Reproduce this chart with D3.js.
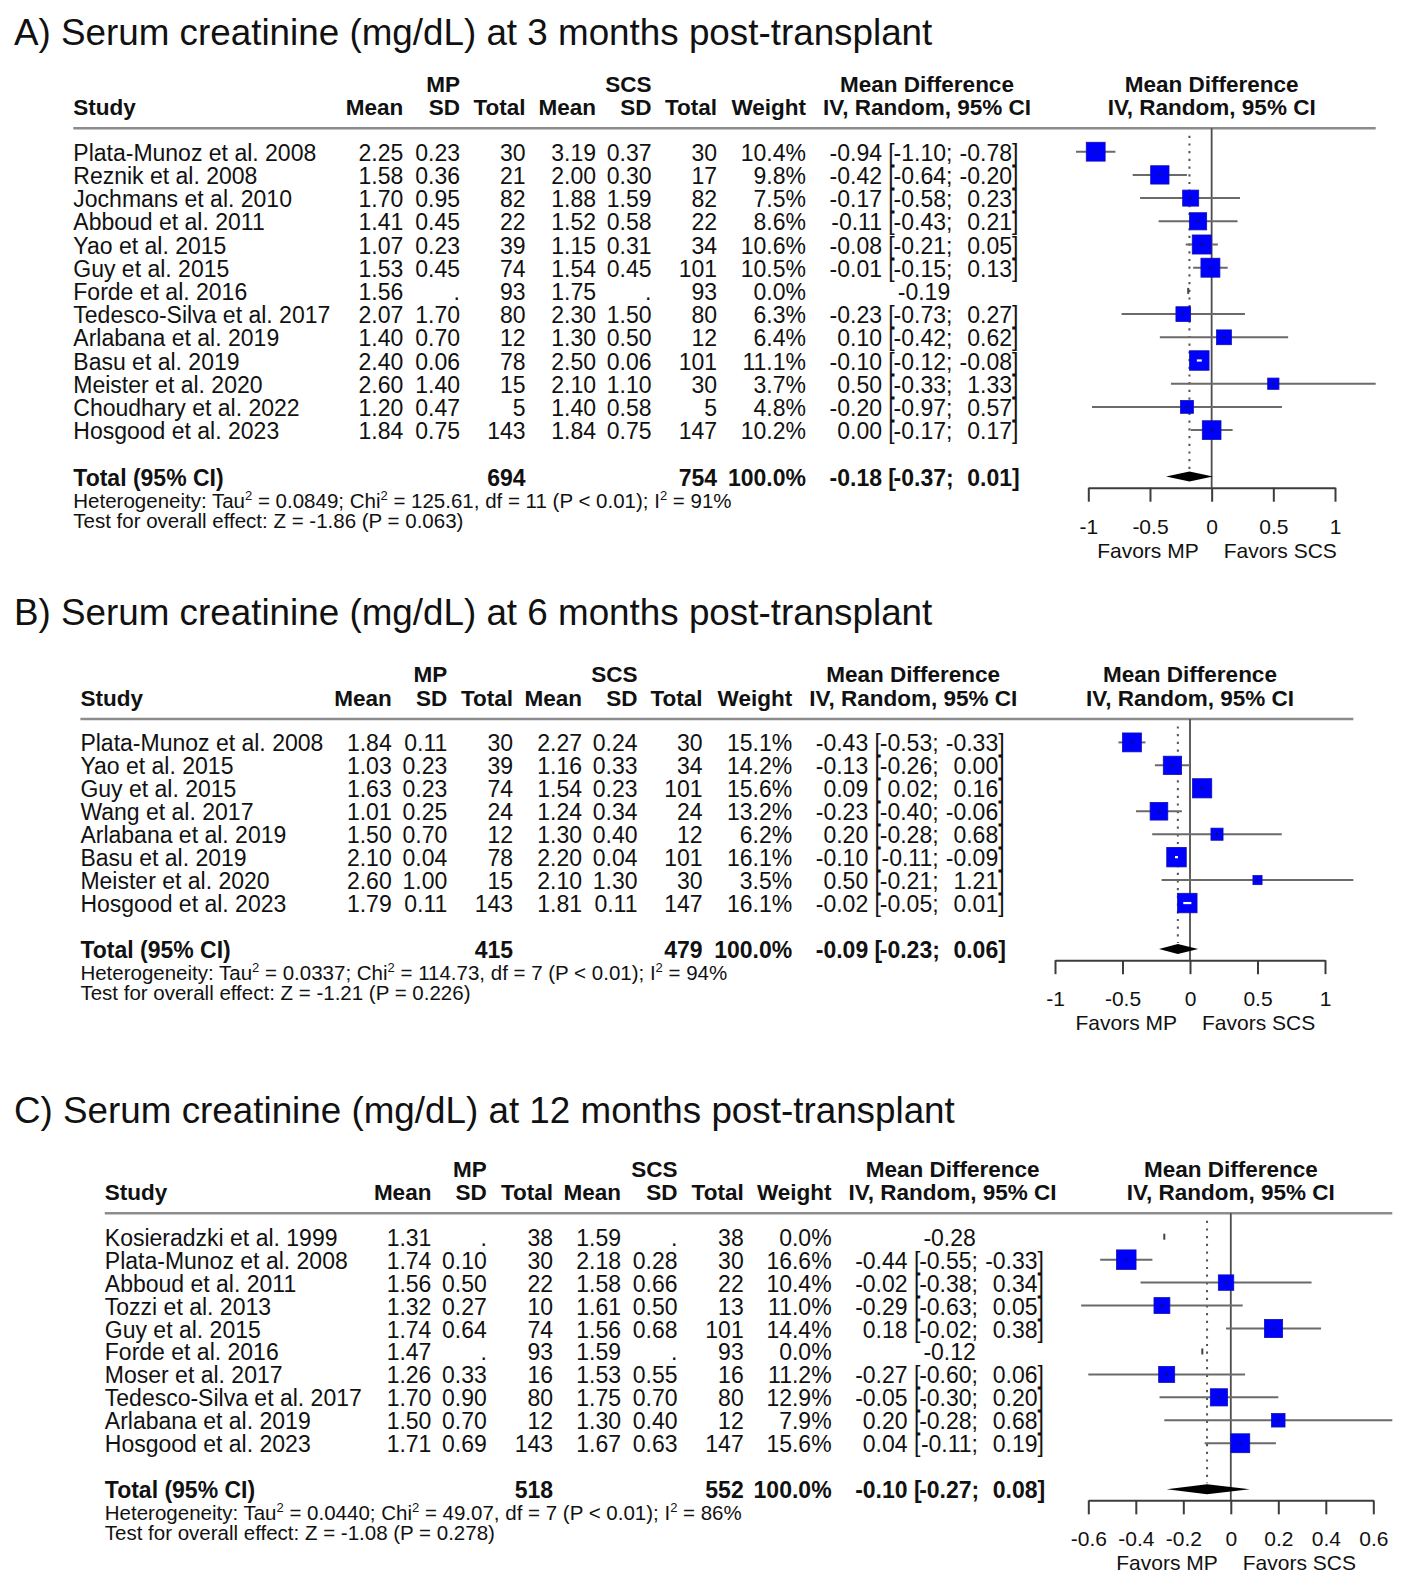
<!DOCTYPE html>
<html>
<head>
<meta charset="utf-8">
<script src="https://cdn.jsdelivr.net/npm/d3@7"></script>
<style>
  body { margin: 0; background: #fff; }
  text { font-family: "Liberation Sans", Arial, sans-serif; fill: #111; }
</style>
</head>
<body>
<script>
// ---- data: panel A, 3 months ----
var studiesA = ["Plata-Munoz et al. 2008", "Reznik et al. 2008", "Jochmans et al. 2010", "Abboud et al. 2011",
  "Yao et al. 2015", "Guy et al. 2015", "Forde et al. 2016", "Tedesco-Silva et al. 2017", "Arlabana et al. 2019",
  "Basu et al. 2019", "Meister et al. 2020", "Choudhary et al. 2022", "Hosgood et al. 2023"];
var mpMeanA = [2.25, 1.58, 1.70, 1.41, 1.07, 1.53, 1.56, 2.07, 1.40, 2.40, 2.60, 1.20, 1.84];
var mpSdA = [0.23, 0.36, 0.95, 0.45, 0.23, 0.45, null, 1.70, 0.70, 0.06, 1.40, 0.47, 0.75];
var mpTotalA = [30, 21, 82, 22, 39, 74, 93, 80, 12, 78, 15, 5, 143];
var scsMeanA = [3.19, 2.00, 1.88, 1.52, 1.15, 1.54, 1.75, 2.30, 1.30, 2.50, 2.10, 1.40, 1.84];
var scsSdA = [0.37, 0.30, 1.59, 0.58, 0.31, 0.45, null, 1.50, 0.50, 0.06, 1.10, 0.58, 0.75];
var scsTotalA = [30, 17, 82, 22, 34, 101, 93, 80, 12, 101, 30, 5, 147];
var weightA = [10.4, 9.8, 7.5, 8.6, 10.6, 10.5, 0.0, 6.3, 6.4, 11.1, 3.7, 4.8, 10.2];
var mdA = [-0.94, -0.42, -0.17, -0.11, -0.08, -0.01, -0.19, -0.23, 0.10, -0.10, 0.50, -0.20, 0.00];
var lowerA = [-1.10, -0.64, -0.58, -0.43, -0.21, -0.15, null, -0.73, -0.42, -0.12, -0.33, -0.97, -0.17];
var upperA = [-0.78, -0.20, 0.23, 0.21, 0.05, 0.13, null, 0.27, 0.62, -0.08, 1.33, 0.57, 0.17];

// ---- data: panel B, 6 months ----
var studiesB = ["Plata-Munoz et al. 2008", "Yao et al. 2015", "Guy et al. 2015", "Wang et al. 2017",
  "Arlabana et al. 2019", "Basu et al. 2019", "Meister et al. 2020", "Hosgood et al. 2023"];
var mpMeanB = [1.84, 1.03, 1.63, 1.01, 1.50, 2.10, 2.60, 1.79];
var mpSdB = [0.11, 0.23, 0.23, 0.25, 0.70, 0.04, 1.00, 0.11];
var mpTotalB = [30, 39, 74, 24, 12, 78, 15, 143];
var scsMeanB = [2.27, 1.16, 1.54, 1.24, 1.30, 2.20, 2.10, 1.81];
var scsSdB = [0.24, 0.33, 0.23, 0.34, 0.40, 0.04, 1.30, 0.11];
var scsTotalB = [30, 34, 101, 24, 12, 101, 30, 147];
var weightB = [15.1, 14.2, 15.6, 13.2, 6.2, 16.1, 3.5, 16.1];
var mdB = [-0.43, -0.13, 0.09, -0.23, 0.20, -0.10, 0.50, -0.02];
var lowerB = [-0.53, -0.26, 0.02, -0.40, -0.28, -0.11, -0.21, -0.05];
var upperB = [-0.33, 0.00, 0.16, -0.06, 0.68, -0.09, 1.21, 0.01];

// ---- data: panel C, 12 months ----
var studiesC = ["Kosieradzki et al. 1999", "Plata-Munoz et al. 2008", "Abboud et al. 2011", "Tozzi et al. 2013",
  "Guy et al. 2015", "Forde et al. 2016", "Moser et al. 2017", "Tedesco-Silva et al. 2017",
  "Arlabana et al. 2019", "Hosgood et al. 2023"];
var mpMeanC = [1.31, 1.74, 1.56, 1.32, 1.74, 1.47, 1.26, 1.70, 1.50, 1.71];
var mpSdC = [null, 0.10, 0.50, 0.27, 0.64, null, 0.33, 0.90, 0.70, 0.69];
var mpTotalC = [38, 30, 22, 10, 74, 93, 16, 80, 12, 143];
var scsMeanC = [1.59, 2.18, 1.58, 1.61, 1.56, 1.59, 1.53, 1.75, 1.30, 1.67];
var scsSdC = [null, 0.28, 0.66, 0.50, 0.68, null, 0.55, 0.70, 0.40, 0.63];
var scsTotalC = [38, 30, 22, 13, 101, 93, 16, 80, 12, 147];
var weightC = [0.0, 16.6, 10.4, 11.0, 14.4, 0.0, 11.2, 12.9, 7.9, 15.6];
var mdC = [-0.28, -0.44, -0.02, -0.29, 0.18, -0.12, -0.27, -0.05, 0.20, 0.04];
var lowerC = [null, -0.55, -0.38, -0.63, -0.02, null, -0.60, -0.30, -0.28, -0.11];
var upperC = [null, -0.33, 0.34, 0.05, 0.38, null, 0.06, 0.20, 0.68, 0.19];

// pooled results and tests, one entry per panel (A, B, C)
var titles = ["A) Serum creatinine (mg/dL) at 3 months post-transplant",
  "B) Serum creatinine (mg/dL) at 6 months post-transplant",
  "C) Serum creatinine (mg/dL) at 12 months post-transplant"];
var totMp = [694, 415, 518];
var totScs = [754, 479, 552];
var totMd = [-0.18, -0.09, -0.10];
var totLow = [-0.37, -0.23, -0.27];
var totUp = [0.01, 0.06, 0.08];
var tau2 = ["0.0849", "0.0337", "0.0440"];
var chi2 = ["125.61", "114.73", "49.07"];
var dfs = [11, 7, 7];
var i2 = [91, 94, 86];
var zVals = ["-1.86", "-1.21", "-1.08"];
var pVals = ["0.063", "0.226", "0.278"];

var ticksAB = [-1, -0.5, 0, 0.5, 1];
var ticksC = [-0.6, -0.4, -0.2, 0, 0.2, 0.4, 0.6];

var loc = d3.formatLocale({decimal: ".", thousands: ",", grouping: [3], currency: ["", ""], minus: "-"});
var f2 = loc.format(".2f"), f1 = loc.format(".1f");

var svg = d3.select("body").append("svg").attr("width", 1405).attr("height", 1585);
svg.append("rect").attr("width", "100%").attr("height", "100%").attr("fill", "white");

var panels = [
  {studies: studiesA, mpMean: mpMeanA, mpSd: mpSdA, mpTotal: mpTotalA, scsMean: scsMeanA, scsSd: scsSdA,
   scsTotal: scsTotalA, weight: weightA, md: mdA, lower: lowerA, upper: upperA, ticks: ticksAB,
   titleY: 44.5, hLine: 128.3, rowH: 23.2, xlim: [-1, 1], xrange: [1088.3, 1335],
   cols: [73.3, 403.3, 460, 525.5, 596, 651.5, 717, 806]},
  {studies: studiesB, mpMean: mpMeanB, mpSd: mpSdB, mpTotal: mpTotalB, scsMean: scsMeanB, scsSd: scsSdB,
   scsTotal: scsTotalB, weight: weightB, md: mdB, lower: lowerB, upper: upperB, ticks: ticksAB,
   titleY: 625, hLine: 719, rowH: 22.95, xlim: [-1, 1], xrange: [1055, 1325],
   cols: [80.4, 391.7, 447.3, 513, 582, 637.5, 702.5, 792.2]},
  {studies: studiesC, mpMean: mpMeanC, mpSd: mpSdC, mpTotal: mpTotalC, scsMean: scsMeanC, scsSd: scsSdC,
   scsTotal: scsTotalC, weight: weightC, md: mdC, lower: lowerC, upper: upperC, ticks: ticksC,
   titleY: 1123.3, hLine: 1213.3, rowH: 22.95, xlim: [-0.6, 0.6], xrange: [1088.3, 1373.3],
   cols: [104.8, 431.4, 486.8, 553, 621, 677.5, 743.7, 831.6]}
];

function txt(g, x, y, s, anchor, size, bold) {
  return g.append("text").attr("x", x).attr("y", y).attr("text-anchor", anchor || "start")
    .attr("font-size", size || 23).attr("font-weight", bold ? "bold" : null).text(s);
}

function sdFmt(v) { return v == null ? "." : f2(v); }

// estimate [lower; upper] laid out in fixed slots like R's padded string
function ciText(g, estR, yy, est, lo, up, bold) {
  txt(g, estR, yy, f2(est), "end", 23, bold);
  txt(g, estR + 6.3, yy, "[", "start", 23, bold);
  txt(g, estR + 64, yy, f2(lo), "end", 23, bold);
  txt(g, estR + 64, yy, ";", "start", 23, bold);
  txt(g, estR + 130, yy, f2(up), "end", 23, bold);
  txt(g, estR + 130, yy, "]", "start", 23, bold);
}

panels.forEach(function (p, k) {
  var g = svg.append("g");
  var n = p.studies.length;
  var c = p.cols;
  var first = p.hLine + 23.4;
  var y = d3.scaleLinear().domain([0, 1]).range([first, first + p.rowH]);
  var x = d3.scaleLinear().domain(p.xlim).range(p.xrange);
  var side = d3.scaleSqrt().domain([0, d3.max(p.weight)]).range([0, 19.5]);
  var estR = c[7] + 76, mdCenter = c[7] + 121;
  var totY = y(n + 1), axisY = totY + 11.2;

  txt(g, 14, p.titleY, titles[k], "start", 36.8);

  // header
  var h1 = p.hLine - 36.6, h2 = p.hLine - 13.3;
  txt(g, c[2], h1, "MP", "end", 22.5, true);
  txt(g, c[5], h1, "SCS", "end", 22.5, true);
  txt(g, mdCenter, h1, "Mean Difference", "middle", 22.5, true);
  txt(g, x(0), h1, "Mean Difference", "middle", 22.5, true);
  txt(g, c[0], h2, "Study", "start", 22.5, true);
  ["Mean", "SD", "Total", "Mean", "SD", "Total", "Weight"].forEach(function (h, j) {
    txt(g, c[j + 1], h2, h, "end", 22.5, true);
  });
  txt(g, mdCenter, h2, "IV, Random, 95% CI", "middle", 22.5, true);
  txt(g, x(0), h2, "IV, Random, 95% CI", "middle", 22.5, true);

  var rightEnd = x(Math.max(p.xlim[1], d3.max(p.upper)));
  g.append("line").attr("x1", c[0]).attr("x2", rightEnd).attr("y1", p.hLine).attr("y2", p.hLine)
    .attr("stroke", "#8c8c8c").attr("stroke-width", 2.6);

  // table rows
  var cols = [
    {v: p.studies, a: "start", f: String},
    {v: p.mpMean, a: "end", f: f2},
    {v: p.mpSd, a: "end", f: sdFmt},
    {v: p.mpTotal, a: "end", f: String},
    {v: p.scsMean, a: "end", f: f2},
    {v: p.scsSd, a: "end", f: sdFmt},
    {v: p.scsTotal, a: "end", f: String},
    {v: p.weight, a: "end", f: function (w) { return f1(w) + "%"; }}
  ];
  cols.forEach(function (col, j) {
    g.append("g").selectAll("text").data(col.v).join("text")
      .attr("x", c[j]).attr("y", function (d, i) { return y(i) + 9; })
      .attr("text-anchor", col.a).attr("font-size", 23)
      .text(col.f);
  });
  p.md.forEach(function (m, i) {
    if (p.lower[i] == null) txt(g, mdCenter - 3, y(i) + 9, f2(m), "middle", 23);
    else ciText(g, estR, y(i) + 9, m, p.lower[i], p.upper[i], false);
  });

  // total row
  txt(g, c[0], totY + 9, "Total (95% CI)", "start", 23, true);
  txt(g, c[3], totY + 9, totMp[k], "end", 23, true);
  txt(g, c[6], totY + 9, totScs[k], "end", 23, true);
  txt(g, c[7], totY + 9, "100.0%", "end", 23, true);
  ciText(g, estR, totY + 9, totMd[k], totLow[k], totUp[k], true);

  var het = txt(g, c[0], totY + 31, "", "start", 20.5);
  var parts = [["Heterogeneity: Tau", 0], ["2", 1], [" = " + tau2[k] + "; Chi", 0], ["2", 1],
    [" = " + chi2[k] + ", df = " + dfs[k] + " (P < 0.01); I", 0], ["2", 1], [" = " + i2[k] + "%", 0]];
  parts.forEach(function (part, j) {
    het.append("tspan").attr("font-size", part[1] ? 13 : 20.5)
      .attr("dy", part[1] ? -8 : (j > 0 ? 8 : 0)).text(part[0]);
  });
  txt(g, c[0], totY + 51, "Test for overall effect: Z = " + zVals[k] + " (P = " + pVals[k] + ")", "start", 20.5);

  // forest plot
  g.append("line").attr("x1", x(0)).attr("x2", x(0)).attr("y1", p.hLine).attr("y2", axisY)
    .attr("stroke", "#4d4d4d").attr("stroke-width", 1.8);
  g.append("line").attr("x1", x(totMd[k])).attr("x2", x(totMd[k]))
    .attr("y1", first - 16).attr("y2", totY - 6)
    .attr("stroke", "#555").attr("stroke-width", 2).attr("stroke-dasharray", "2.2,5.5");

  var idx = d3.range(n);
  var withCi = idx.filter(function (i) { return p.lower[i] != null; });
  var noW = idx.filter(function (i) { return p.lower[i] == null; });
  function inside(i) { return x(p.upper[i]) - x(p.lower[i]) < side(p.weight[i]) - 3; }

  g.append("g").selectAll("line").data(withCi).join("line")
    .attr("x1", function (i) { return x(p.lower[i]); })
    .attr("x2", function (i) { return x(p.upper[i]); })
    .attr("y1", function (i) { return y(i); }).attr("y2", function (i) { return y(i); })
    .attr("stroke", "#6a6a6a").attr("stroke-width", 2);

  g.append("g").selectAll("rect").data(withCi).join("rect")
    .attr("x", function (i) { return x(p.md[i]) - side(p.weight[i]) / 2; })
    .attr("y", function (i) { return y(i) - side(p.weight[i]) / 2; })
    .attr("width", function (i) { return side(p.weight[i]); })
    .attr("height", function (i) { return side(p.weight[i]); })
    .attr("fill", "#0000ff").attr("stroke", "#1010b0").attr("stroke-width", 0.8);

  // centre mark: white where the CI fits inside the square
  g.append("g").selectAll("line").data(withCi).join("line")
    .attr("x1", function (i) { return inside(i) ? Math.min(x(p.lower[i]), x(p.md[i]) - 1.5) : x(p.md[i]) - 1.2; })
    .attr("x2", function (i) { return inside(i) ? Math.max(x(p.upper[i]), x(p.md[i]) + 1.5) : x(p.md[i]) + 1.2; })
    .attr("y1", function (i) { return y(i); }).attr("y2", function (i) { return y(i); })
    .attr("stroke", function (i) { return inside(i) ? "white" : "#101060"; })
    .attr("stroke-width", 2.2);

  g.append("g").selectAll("rect").data(noW).join("rect")
    .attr("x", function (i) { return x(p.md[i]) - 1; })
    .attr("y", function (i) { return y(i) - 3; })
    .attr("width", 2).attr("height", 6).attr("fill", "#444");

  var dy = 5;
  g.append("path")
    .attr("d", "M" + x(totLow[k]) + "," + totY + "L" + x(totMd[k]) + "," + (totY - dy) +
      "L" + x(totUp[k]) + "," + totY + "L" + x(totMd[k]) + "," + (totY + dy) + "Z")
    .attr("fill", "black");

  var axis = d3.axisBottom(x).tickValues(p.ticks).tickSize(14).tickSizeOuter(0).tickPadding(17.1)
    .tickFormat(function (d) { return String(d); });
  var ax = g.append("g").attr("transform", "translate(0," + axisY + ")").call(axis);
  ax.select(".domain").attr("stroke", "#3c3c3c").attr("stroke-width", 2);
  ax.selectAll(".tick line").attr("stroke", "#3c3c3c").attr("stroke-width", 2);
  ax.selectAll(".tick text").attr("font-size", 21).attr("font-family", "Liberation Sans, Arial, sans-serif")
    .attr("fill", "#111");

  txt(g, x(0) - 13, axisY + 70, "Favors MP", "end", 21);
  txt(g, x(0) + 12, axisY + 70, "Favors SCS", "start", 21);
});
</script>
</body>
</html>
